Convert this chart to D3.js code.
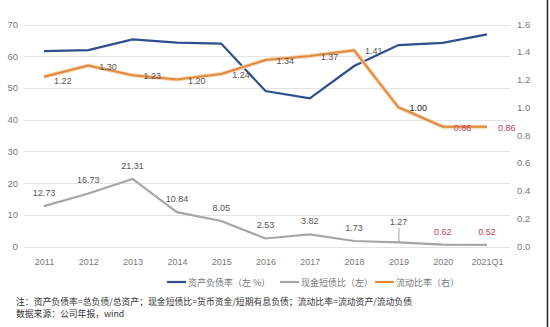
<!DOCTYPE html>
<html><head><meta charset="utf-8">
<script src="https://cdn.jsdelivr.net/npm/d3@7"></script>
<style>
html,body{margin:0;padding:0;background:#fff;}
svg{display:block;font-family:"Liberation Sans",Arial,"Noto Sans CJK SC",sans-serif;}
</style></head><body>
<svg id="c" width="550" height="327"></svg>
<script>
const categories = ["2011","2012","2013","2014","2015","2016","2017","2018","2019","2020","2021Q1"];
const debtRatio = [61.6, 61.9, 65.3, 64.3, 64.0, 49.0, 46.7, 56.9, 63.5, 64.2, 66.9];
const cashRatio = [12.73, 16.73, 21.31, 10.84, 8.05, 2.53, 3.82, 1.73, 1.27, 0.62, 0.52];
const currentRatio = [1.22, 1.30, 1.23, 1.20, 1.24, 1.34, 1.37, 1.41, 1.00, 0.86, 0.86];
const leftTicks = [0, 10, 20, 30, 40, 50, 60, 70];
const rightTicks = [0, 0.2, 0.4, 0.6, 0.8, 1.0, 1.2, 1.4, 1.6];
const legendLabels = ["资产负债率（左 %）", "现金短债比（左）", "流动比率（右）"];
const notes = ["注：资产负债率=总负债/总资产；现金短债比=货币资金/短期有息负债；流动比率=流动资产/流动负债", "数据来源：公司年报，wind"];

const svg = d3.select("#c");
const x = d3.scalePoint().domain(categories).range([44, 487]);
const yL = d3.scaleLinear().domain([0, 70]).range([246.5, 24.5]);
const yR = d3.scaleLinear().domain([0, 1.6]).range([246, 24]);
const blue = "#2e4f8f", gray = "#a6a6a6", orange = "#e08a3e", red = "#c0405a";

// grid
svg.append("g").selectAll("line").data(leftTicks).join("line")
  .attr("x1", 24).attr("x2", 510)
  .attr("y1", d => Math.round(yL(d)) + 0.5).attr("y2", d => Math.round(yL(d)) + 0.5)
  .attr("stroke", "#e3e3e3").attr("stroke-width", 1);

// left axis
const la = svg.append("g").attr("transform", "translate(20,0)")
  .call(d3.axisLeft(yL).tickValues(leftTicks).tickSize(0).tickPadding(2).tickFormat(d3.format("d")));
la.select(".domain").remove();
la.selectAll("text").attr("fill", "#7a7a7a").style("font-size", "9.5px");

// right axis
const ra = svg.append("g").attr("transform", "translate(515,0)")
  .call(d3.axisRight(yR).tickValues(rightTicks).tickSize(0).tickPadding(2).tickFormat(d3.format(".1f")));
ra.select(".domain").remove();
ra.selectAll("text").attr("fill", "#7a7a7a").style("font-size", "9.5px");

// x axis
const xa = svg.append("g").attr("transform", "translate(0,256)")
  .call(d3.axisBottom(x).tickSize(0).tickPadding(3));
xa.select(".domain").remove();
xa.selectAll("text").attr("fill", "#7a7a7a").style("font-size", "9px");

// lines
const lineL = d3.line().x((d, i) => x(categories[i])).y(d => yL(d));
const lineR = d3.line().x((d, i) => x(categories[i])).y(d => yR(d));
svg.append("path").attr("d", lineL(cashRatio)).attr("fill", "none").attr("stroke", gray).attr("stroke-width", 2.2);
svg.append("path").attr("d", lineL(debtRatio)).attr("fill", "none").attr("stroke", blue).attr("stroke-width", 2.2);
svg.append("path").attr("d", lineR(currentRatio)).attr("fill", "none").attr("stroke", "#f6d3b0").attr("stroke-width", 4);
svg.append("path").attr("d", lineR(currentRatio)).attr("fill", "none").attr("stroke", orange).attr("stroke-width", 2);

// gray labels
cashRatio.forEach((v, i) => {
  const cx = x(categories[i]);
  let ty = yL(v) - 10;
  let col = "#555";
  if (i === 8) {
    ty = 225;
    svg.append("line").attr("x1", cx + 0.5).attr("x2", cx + 0.5).attr("y1", 228).attr("y2", yL(v)).attr("stroke", "#888").attr("stroke-width", 0.8);
  }
  if (i >= 9) { ty = 235; col = red; }
  svg.append("text").attr("x", cx).attr("y", ty).attr("text-anchor", "middle")
    .attr("fill", col).style("font-size", "9px").text(v.toFixed(2));
});

// orange labels
currentRatio.forEach((v, i) => {
  const cx = x(categories[i]);
  let dx = 11, dy = 4;
  if (i === 0) { dx = 10; dy = 7; }
  if (i === 3) dy = 4.5;
  const col = i >= 9 ? red : (i === 8 ? "#222" : "#555");
  svg.append("text").attr("x", cx + dx).attr("y", yR(v) + dy).attr("text-anchor", "start")
    .attr("fill", col).style("font-size", "9px").text(v.toFixed(2));
});

// legend
const leg = [{c: blue, x: 167, t: legendLabels[0]}, {c: gray, x: 280, t: legendLabels[1]}, {c: orange, x: 375, t: legendLabels[2]}];
leg.forEach(l => {
  svg.append("line").attr("x1", l.x).attr("x2", l.x + 19).attr("y1", 282).attr("y2", 282).attr("stroke", l.c).attr("stroke-width", 2.2);
  svg.append("text").attr("x", l.x + 21).attr("y", 285.5).attr("fill", "#777").style("font-size", "9px")
    .style("font-family", "'Noto Sans CJK SC',sans-serif").text(l.t);
});

// notes
svg.append("text").attr("x", 16).attr("y", 305).attr("fill", "#333").style("font-size", "8.8px")
  .style("font-family", "'Noto Sans CJK SC',sans-serif").attr("textLength", 396).attr("lengthAdjust", "spacingAndGlyphs").text(notes[0]);
svg.append("text").attr("x", 16).attr("y", 316.5).attr("fill", "#333").style("font-size", "8.8px")
  .style("font-family", "'Noto Sans CJK SC',sans-serif").text(notes[1]);

// right border
svg.append("line").attr("x1", 547.5).attr("x2", 547.5).attr("y1", 0).attr("y2", 327).attr("stroke", "#222").attr("stroke-width", 1.5);
</script>
</body></html>
